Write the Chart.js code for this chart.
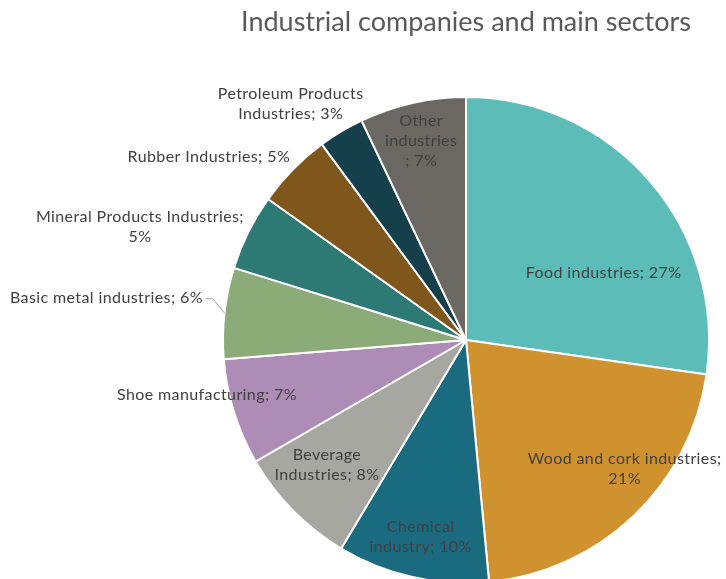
<!DOCTYPE html>
<html>
<head>
<meta charset="utf-8">
<script src="https://cdn.jsdelivr.net/npm/chart.js@4"></script>
<style>
  html, body { margin: 0; padding: 0; background: #fff; overflow: hidden; }
  #wrap { width: 726px; height: 600px; }
</style>
</head>
<body>
<div id="wrap"><canvas id="pieChart" width="726" height="600"></canvas></div>
<script>
// ===== DATA =====
const sectors = ['Food industries', 'Wood and cork industries', 'Chemical industry', 'Beverage Industries',
  'Shoe manufacturing', 'Basic metal industries', 'Mineral Products Industries', 'Rubber Industries',
  'Petroleum Products Industries', 'Other industries'];
const shares = [27, 21, 10, 8, 7, 6, 5, 5, 3, 7];
const sliceColors = ['#5bbcb8', '#d0922f', '#1a6b80', '#a6a7a1', '#ad8db5', '#8bab79', '#2d7a74', '#7f561c', '#143f4b', '#6b6863'];

// line breaks inside each data label (split after these tokens)
const labelBreaks = [[], [';'], ['Chemical'], ['Beverage'], [], [], [';'], [], ['Products'], ['Other', 'industries']];
// label anchor: angle (deg, clockwise from top) and distance as fraction of radius
const labelPlace = [[64, 0.63], [129, 0.84], [193, 0.83], [228, 0.77], [258, 1.09],
  [276.7, 1.49], [289.1, 1.42], [305.5, 1.30], [323.4, 1.21], [347.3, 0.84]];
const leaderLines = [5];

function splitLabel(text, tokens) {
  const lines = [];
  let rest = text;
  tokens.forEach(t => {
    const i = rest.indexOf(t);
    if (i < 0) return;
    lines.push(rest.slice(0, i + t.length).trim());
    rest = rest.slice(i + t.length).trim();
  });
  lines.push(rest);
  return lines;
}

// draws the "name; value%" labels around / on the slices
const sliceLabels = {
  id: 'sliceLabels',
  afterDatasetsDraw(chart) {
    const g = chart.ctx;
    const arcs = chart.getDatasetMeta(0).data;
    g.save();
    g.font = '16px Lato';
    g.letterSpacing = '0.4px';
    g.fillStyle = '#404040';
    g.textAlign = 'center';
    g.textBaseline = 'middle';
    arcs.forEach((arc, i) => {
      const {x, y, outerRadius} = arc;
      const [deg, k] = labelPlace[i];
      const a = deg * Math.PI / 180;
      const lx = x + Math.sin(a) * outerRadius * k;
      const ly = y - Math.cos(a) * outerRadius * k;
      const lines = splitLabel(sectors[i] + '; ' + shares[i] + '%', labelBreaks[i]);
      const lh = 20;
      lines.forEach((ln, j) => g.fillText(ln, lx, ly + (j - (lines.length - 1) / 2) * lh));

      if (leaderLines.includes(i)) {
        const mid = (arc.startAngle + arc.endAngle) / 2;
        const ex = x + Math.cos(mid) * outerRadius;
        const ey = y + Math.sin(mid) * outerRadius;
        const w = g.measureText(lines[0]).width;
        g.strokeStyle = '#a6a6a6';
        g.lineWidth = 1;
        g.beginPath();
        g.moveTo(lx + w / 2 + 3, ly + 1);
        g.lineTo(lx + w / 2 + 10, ly + 1);
        g.lineTo(ex, ey);
        g.stroke();
      }
    });
    g.restore();
  }
};

function initPieChart() {
  const ctx = document.getElementById('pieChart');
  if (!ctx) return;
  new Chart(ctx, {
    type: 'pie',
    data: {
      labels: sectors,
      datasets: [{ data: shares, backgroundColor: sliceColors, borderColor: '#ffffff', borderWidth: 2 }]
    },
    options: {
      responsive: false, animation: false,
      layout: { padding: { left: 222, right: 16, bottom: 16, top: 0 } },
      plugins: {
        legend: { display: false },
        tooltip: { enabled: false },
        title: {
          display: true, text: 'Industrial companies and main sectors', color: '#595959',
          font: { family: 'Lato', size: 27, weight: 'normal' }, padding: { top: 6, bottom: 57.6 }
        }
      }
    },
    plugins: [sliceLabels]
  });
}

initPieChart();
</script>
</body>
</html>
